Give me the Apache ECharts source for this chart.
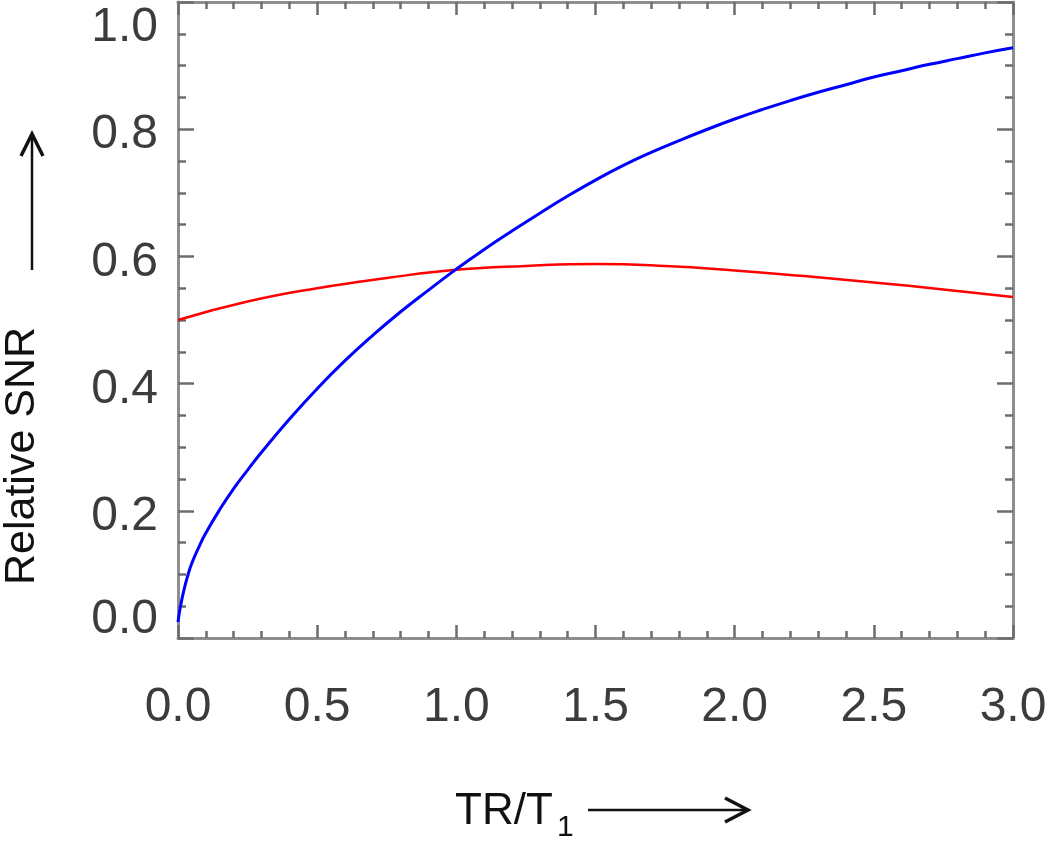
<!DOCTYPE html>
<html>
<head>
<meta charset="utf-8">
<script src="https://cdn.jsdelivr.net/npm/echarts@6/dist/echarts.min.js"></script>
<style>
html,body{margin:0;padding:0;background:#fff;}
#chart{width:1050px;height:843px;}
</style>
</head>
<body>
<div id="chart"></div>
<script>
// Blue curve
var blueX = [0.0, 0.005, 0.01, 0.02, 0.035, 0.05, 0.075, 0.1, 0.15, 0.2, 0.25, 0.3, 0.4, 0.5, 0.6, 0.7, 0.8, 0.9, 1.0, 1.1, 1.2, 1.3, 1.4, 1.5, 1.6, 1.7, 1.8, 1.9, 2.0, 2.1, 2.2, 2.3, 2.4, 2.5, 2.6, 2.7, 2.8, 2.9, 3.0];
var blueY = [0.025, 0.040, 0.052, 0.073, 0.098, 0.118, 0.143, 0.165, 0.202, 0.235, 0.264, 0.292, 0.344, 0.392, 0.436, 0.476, 0.513, 0.547, 0.580, 0.611, 0.640, 0.668, 0.695, 0.720, 0.743, 0.7635, 0.782, 0.7995, 0.816, 0.831, 0.845, 0.858, 0.870, 0.882, 0.892, 0.902, 0.911, 0.920, 0.928];
// Red curve
var redX = [0.0, 0.25, 0.5, 0.75, 1.0, 1.25, 1.5, 1.75, 2.0, 2.25, 2.5, 2.75, 3.0];
var redY = [0.500, 0.529, 0.550, 0.566, 0.579, 0.585, 0.588, 0.585, 0.578, 0.569, 0.559, 0.548, 0.536];
// Tick labels
var xTickLabels = ['0.0', '0.5', '1.0', '1.5', '2.0', '2.5', '3.0'];
var yTickLabels = ['0.0', '0.2', '0.4', '0.6', '0.8', '1.0'];
var yAxisTitle = 'Relative SNR';
var xAxisTitleMain = 'TR/T';
var xAxisTitleSub = '1';

function pairs(xs, ys) { return xs.map(function (x, i) { return [x, ys[i]]; }); }

var axisLineStyle = { color: '#8e8e8e', width: 3 };
var tickStyle = { color: '#6e6e6e', width: 2.5 };
var labelFont = { fontFamily: 'Liberation Sans', fontSize: 48, color: '#3c3c3c' };

var chart = echarts.init(document.getElementById('chart'), null, { renderer: 'canvas' });
chart.setOption({
  backgroundColor: '#ffffff',
  animation: false,
  grid: { left: 178, right: 37, top: 2, bottom: 205 },
  xAxis: [{
    type: 'value', min: 0, max: 3, interval: 0.5, position: 'bottom',
    axisLine: { show: true, onZero: false, lineStyle: axisLineStyle },
    axisTick: { show: true, inside: true, length: 13, lineStyle: tickStyle },
    minorTick: { show: true, splitNumber: 5, length: 7, lineStyle: tickStyle },
    splitLine: { show: false }, minorSplitLine: { show: false },
    axisLabel: Object.assign({ margin: 46, formatter: function (v) { return xTickLabels[Math.round(v / 0.5)]; } }, labelFont)
  }, {
    type: 'value', min: 0, max: 3, interval: 0.5, position: 'top',
    axisLine: { show: true, onZero: false, lineStyle: axisLineStyle },
    axisTick: { show: true, inside: true, length: 13, lineStyle: tickStyle },
    minorTick: { show: true, splitNumber: 5, length: 7, lineStyle: tickStyle },
    splitLine: { show: false }, axisLabel: { show: false }
  }],
  yAxis: [{
    type: 'value', min: 0, max: 1, interval: 0.2, position: 'left',
    axisLine: { show: true, onZero: false, lineStyle: axisLineStyle },
    axisTick: { show: true, inside: true, length: 16, lineStyle: tickStyle },
    minorTick: { show: true, splitNumber: 4, length: 8, lineStyle: tickStyle },
    splitLine: { show: false }, minorSplitLine: { show: false },
    axisLabel: Object.assign({
      margin: 20,
      formatter: function (v) {
        var i = Math.round(v / 0.2);
        var t = yTickLabels[i];
        if (i === 5) return '{top|' + t + '}';
        if (i === 0) return '{bot|' + t + '}';
        return '{mid|' + t + '}';
      },
      rich: {
        top: Object.assign({ padding: [52, 0, 0, 0] }, labelFont),
        bot: Object.assign({ padding: [0, 0, 36, 0] }, labelFont),
        mid: Object.assign({ padding: [12, 0, 0, 0] }, labelFont)
      }
    }, labelFont)
  }, {
    type: 'value', min: 0, max: 1, interval: 0.2, position: 'right',
    axisLine: { show: true, onZero: false, lineStyle: axisLineStyle },
    axisTick: { show: true, inside: true, length: 16, lineStyle: tickStyle },
    minorTick: { show: true, splitNumber: 4, length: 8, lineStyle: tickStyle },
    splitLine: { show: false }, axisLabel: { show: false }
  }],
  series: [{
    type: 'line', name: 'blue', data: pairs(blueX, blueY), smooth: 0.5,
    showSymbol: false, symbol: 'none',
    lineStyle: { color: '#0000ff', width: 3 }, z: 3
  }, {
    type: 'line', name: 'red', data: pairs(redX, redY), smooth: 0.5,
    showSymbol: false, symbol: 'none',
    lineStyle: { color: '#ff0000', width: 2.5 }, z: 2
  }],
  graphic: [
    { type: 'text', x: 22, y: 456, rotation: Math.PI / 2,
      style: { text: yAxisTitle, fontFamily: 'Liberation Sans', fontSize: 43, fill: '#111', align: 'center', verticalAlign: 'middle' } },
    { type: 'line', shape: { x1: 32, y1: 270, x2: 32, y2: 136 }, style: { stroke: '#111', lineWidth: 2.5 } },
    { type: 'polyline', shape: { points: [[21, 156], [32, 134], [43, 156]] }, style: { stroke: '#111', lineWidth: 3.5, fill: null } },
    { type: 'text', x: 455, y: 812,
      style: { text: xAxisTitleMain, fontFamily: 'Liberation Sans', fontSize: 44, fill: '#111', align: 'left', verticalAlign: 'middle' } },
    { type: 'text', x: 557, y: 828,
      style: { text: xAxisTitleSub, fontFamily: 'Liberation Sans', fontSize: 30, fill: '#111', align: 'left', verticalAlign: 'middle' } },
    { type: 'line', shape: { x1: 588, y1: 810, x2: 745, y2: 810 }, style: { stroke: '#111', lineWidth: 2.5 } },
    { type: 'polyline', shape: { points: [[725, 798], [748, 810], [725, 822]] }, style: { stroke: '#111', lineWidth: 3.5, fill: null } }
  ]
});
</script>
</body>
</html>
